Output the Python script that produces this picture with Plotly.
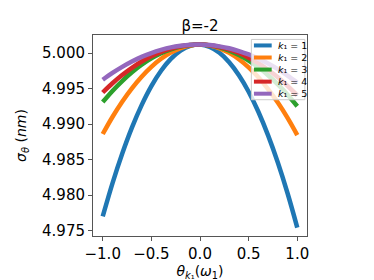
import plotly.graph_objects as go

theta = [-1.0, -0.9, -0.8, -0.7, -0.6, -0.5, -0.4, -0.3, -0.2, -0.1, 0.0,
         0.1, 0.2, 0.3, 0.4, 0.5, 0.6, 0.7, 0.8, 0.9, 1.0]

sigma_k1 = [4.97698, 4.98165, 4.98582, 4.98950, 4.99267, 4.99534, 4.99751, 4.99918, 5.00036, 5.00103, 5.00120,
            5.00087, 5.00004, 4.99872, 4.99689, 4.99456, 4.99173, 4.98840, 4.98458, 4.98025, 4.97542]
sigma_k2 = [4.98860, 4.99100, 4.99315, 4.99504, 4.99668, 4.99807, 4.99920, 5.00008, 5.00071, 5.00108, 5.00120,
            5.00107, 5.00068, 5.00004, 4.99914, 4.99799, 4.99659, 4.99494, 4.99303, 4.99087, 4.98845]
sigma_k3 = [4.99310, 4.99467, 4.99606, 4.99729, 4.99836, 4.99925, 4.99998, 5.00053, 5.00092, 5.00115, 5.00120,
            5.00109, 5.00081, 5.00036, 4.99974, 4.99895, 4.99800, 4.99688, 4.99559, 4.99413, 4.99251]
sigma_k4 = [4.99445, 4.99575, 4.99691, 4.99793, 4.99882, 4.99956, 5.00017, 5.00063, 5.00096, 5.00115, 5.00120,
            5.00111, 5.00088, 5.00051, 5.00001, 4.99936, 4.99858, 4.99765, 4.99659, 4.99539, 4.99405]
sigma_k5 = [4.99624, 4.99720, 4.99806, 4.99881, 4.99946, 5.00001, 5.00045, 5.00080, 5.00103, 5.00117, 5.00120,
            5.00113, 5.00095, 5.00068, 5.00029, 4.99981, 4.99922, 4.99853, 4.99774, 4.99684, 4.99584]

series = [sigma_k1, sigma_k2, sigma_k3, sigma_k4, sigma_k5]
k_values = [1, 2, 3, 4, 5]
colors = ["#1f77b4", "#ff7f0e", "#2ca02c", "#d62728", "#9467bd"]

y_ticks = [4.975, 4.980, 4.985, 4.990, 4.995, 5.000]
x_ticks = [-1.0, -0.5, 0.0, 0.5, 1.0]
title_text = "β=-2"

FONT = "DejaVu Sans"
AX = "#555555"

fig = go.Figure()
for k, ys, c in zip(k_values, series, colors):
    fig.add_trace(go.Scatter(x=theta, y=ys, mode="lines", name=f"k1={k}",
                             line=dict(color=c, width=4.5, shape="spline"),
                             showlegend=False))

# compact matplotlib-style legend
lx0, lx1, ly0, ly1 = 0.740, 0.990, 0.678, 0.978
fig.add_shape(type="rect", xref="paper", yref="paper", x0=lx0, x1=lx1, y0=ly0, y1=ly1,
              line=dict(color="#cccccc", width=1), fillcolor="rgba(255,255,255,0.8)", layer="above")
step = (ly1 - ly0) / len(k_values)
for i, (k, c) in enumerate(zip(k_values, colors)):
    yc = ly1 - step * (i + 0.5)
    fig.add_shape(type="line", xref="paper", yref="paper", x0=0.752, x1=0.835, y0=yc, y1=yc,
                  line=dict(color=c, width=4), layer="above")
    fig.add_annotation(xref="paper", yref="paper", x=0.855, y=yc, xanchor="left", yanchor="middle",
                       text=f"<i>k</i>₁ = {k}", showarrow=False,
                       font=dict(family=FONT, size=9.5, color="black"))

fig.update_layout(
    width=374, height=280,
    margin=dict(l=75, r=75, t=27, b=42),
    paper_bgcolor="white", plot_bgcolor="white",
    font=dict(family=FONT, size=15, color="black"),
    title=dict(text=title_text, x=0.5, xref="paper", y=1 - 18 / 280, yref="container",
               xanchor="center", yanchor="middle", font=dict(family=FONT, size=15, color="black")),
    showlegend=False,
)
fig.update_xaxes(range=[-1.1, 1.1], tickvals=x_ticks, tickformat=".1f",
                 showline=True, mirror=True, linecolor=AX, linewidth=1,
                 ticks="outside", ticklen=4, tickcolor=AX, showgrid=False, zeroline=False,
                 tickfont=dict(family=FONT, size=15),
                 title=dict(text="<i>θ</i><sub><i>k</i>₁</sub>(<i>ω</i><sub>1</sub>)", standoff=3,
                            font=dict(family=FONT, size=14)))
fig.update_yaxes(range=[4.97423, 5.00255], tickvals=y_ticks, tickformat=".3f",
                 showline=True, mirror=True, linecolor=AX, linewidth=1,
                 ticks="outside", ticklen=4, tickcolor=AX, showgrid=False, zeroline=False,
                 tickfont=dict(family=FONT, size=15),
                 title=dict(text="<i>σ</i><sub><i>θ</i></sub> (<i>nm</i>)", standoff=12,
                            font=dict(family=FONT, size=14)))

fig.write_html("out.html")
